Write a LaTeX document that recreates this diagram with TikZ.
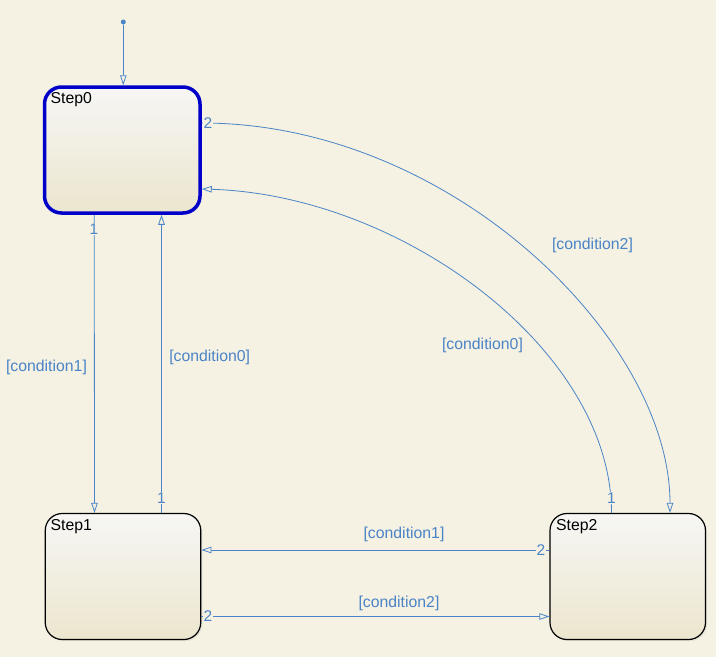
\documentclass[tikz,border=0pt]{standalone}
\usepackage{fontspec}
\setmainfont{Liberation Sans}
\usetikzlibrary{arrows.meta,shadows,calc}
\definecolor{bgc}{RGB}{245,241,227}
\definecolor{linec}{RGB}{74,132,198}
\definecolor{activec}{RGB}{0,0,200}
\definecolor{topc}{RGB}{246,246,244}
\definecolor{botc}{RGB}{236,230,206}
\tikzset{
  statebox/.style={rectangle, rounded corners=17pt, minimum width=155.5pt, minimum height=126pt,
    top color=topc, bottom color=botc, draw=black, line width=1.2pt,
    drop shadow={opacity=0.15, shadow xshift=1.5pt, shadow yshift=-1.5pt}},
  activebox/.style={statebox, draw=activec, line width=3.5pt},
  steptext/.style={anchor=base west, font=\fontsize{15.8}{18}\selectfont, text=black, inner sep=0pt},
  tr/.style={draw=linec, line width=0.8pt, -{Triangle[open, length=10pt, width=6.5pt]}},
  cond/.style={text=linec, font=\fontsize{15.8}{18}\selectfont, inner sep=0pt},
  num/.style={text=linec, font=\fontsize{15.5}{18}\selectfont, fill=bgc, inner sep=0.6pt},
  initdot/.style={circle, fill=linec, minimum size=5pt, inner sep=0pt}
}
\begin{document}
\begin{tikzpicture}[x=1pt, y=-1pt]
\fill[bgc] (0,0) rectangle (716,657);
\useasboundingbox (0,0) rectangle (716,657);

% states
\node[activebox] (s0) at (122.25,150) {};
\node[statebox] (s1) at (123,576.5) {};
\node[statebox] (s2) at (627.75,576.5) {};
\node[steptext] (s0t) at (50.5,103) {Step0};
\node[steptext] (s1t) at (50.5,530) {Step1};
\node[steptext] (s2t) at (556,530) {Step2};

% default transition
\node[initdot] (init) at (123.3,22) {};
\draw[tr] (init) -- (init |- s0.north);

% Step0 <-> Step1
\coordinate (a0) at ([xshift=-28pt]s0.south);
\coordinate (a1) at ([xshift=-28.5pt]s1.north);
\draw[tr] (a0) -- (a1);
\coordinate (b1) at ([xshift=38.5pt]s1.north);
\coordinate (b0) at ([xshift=39.25pt]s0.south);
\draw[tr] (b1) -- (b0);

% Step0 -> Step2 (outer arc)
\coordinate (c0) at ([yshift=27pt]s0.east);
\coordinate (c2) at ([xshift=42.25pt]s2.north);
\draw[tr] (c0) .. controls +(250,0) and +(0,-173) .. (c2);

% Step2 -> Step0 (inner arc)
\coordinate (d2) at ([xshift=-16.25pt]s2.north);
\coordinate (d0) at ([yshift=-39pt]s0.east);
\draw[tr] (d2) .. controls +(0,-163) and +(200,6) .. (d0);

% Step2 <-> Step1
\coordinate (e2) at ([yshift=26.5pt]s2.west);
\coordinate (e1) at ([yshift=26.5pt]s1.east);
\draw[tr] (e2) -- (e1);
\coordinate (f1) at ([yshift=-40pt]s1.east);
\coordinate (f2) at ([yshift=-40pt]s2.west);
\draw[tr] (f1) -- (f2);

% execution order numbers
\node[num] (n0a) at (94,229) {1};
\node[num] (n0b) at (208,123) {2};
\node[num] (n1a) at (161.5,498) {1};
\node[num] (n1b) at (208,616.5) {2};
\node[num] (n2a) at (611.5,498) {1};
\node[num] (n2b) at (541,550) {2};

% conditions
\node[cond] (l1) at (46.5,367) {[condition1]};
\node[cond] (l2) at (209.7,357.5) {[condition0]};
\node[cond] (l3) at (482.5,345) {[condition0]};
\node[cond] (l4) at (592.5,245.5) {[condition2]};
\node[cond] (l5) at (404,534) {[condition1]};
\node[cond] (l6) at (399,603) {[condition2]};
\end{tikzpicture}
\end{document}
